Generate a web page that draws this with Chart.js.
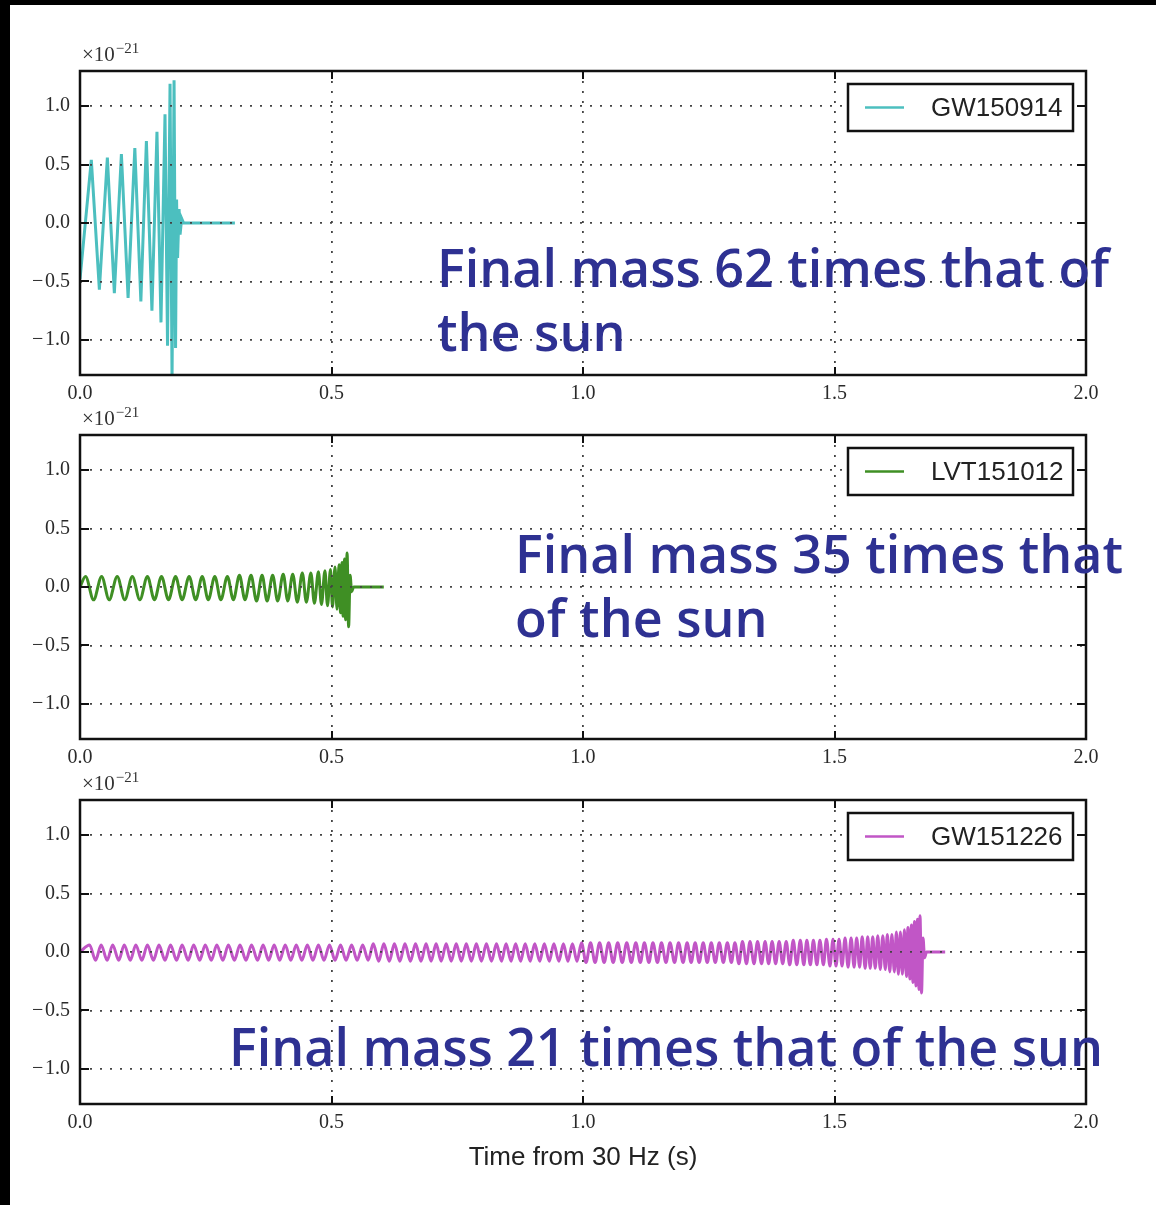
<!DOCTYPE html>
<html>
<head>
<meta charset="utf-8">
<script src="https://cdn.jsdelivr.net/npm/chart.js@4.4.1/dist/chart.umd.min.js"></script>
<style>
  body { margin: 0; background: #fff; }
  #page { position: relative; width: 1156px; height: 1205px; background: #fff; overflow: hidden; }
  canvas { position: absolute; left: 0; }
  .edge { position: absolute; background: #000; }
  .note {
    position: absolute; white-space: nowrap;
    font-family: "Open Sans", sans-serif; font-weight: 600;
    font-size: 52px; line-height: 64px; color: #2E3192;
  }
</style>
</head>
<body>
<div id="page">
  <canvas id="c1" width="1156" height="404" style="top:11px"></canvas>
  <canvas id="c2" width="1156" height="404" style="top:375px"></canvas>
  <canvas id="c3" width="1156" height="444" style="top:740px"></canvas>
  <div class="edge" style="left:0;top:0;width:10px;height:1205px"></div>
  <div class="edge" style="left:0;top:0;width:1156px;height:5px"></div>
  <div class="note" style="left:437px;top:235px">Final mass 62 times that of<br>the sun</div>
  <div class="note" style="left:515px;top:521px">Final mass 35 times that<br>of the sun</div>
  <div class="note" style="left:229px;top:1014px">Final mass 21 times that of the sun</div>
</div>
<script>
// axis ticks
const xTicks = [0, 0.5, 1.0, 1.5, 2.0];
const yTicks = [-1.0, -0.5, 0.0, 0.5, 1.0];
const xLabel = 'Time from 30 Hz (s)';
const names = ['GW150914', 'LVT151012', 'GW151226'];

// strain (x1e-21) at the turning points, [time s, strain]
const gw150914 = [
  [0.000,-0.48],[0.0225,0.54],[0.0385,-0.57],[0.0544,0.56],[0.0683,-0.60],[0.0823,0.59],[0.0956,-0.64],
  [0.109,0.64],[0.121,-0.67],[0.132,0.70],[0.143,-0.75],[0.153,0.78],[0.161,-0.85],[0.169,0.93],
  [0.174,-1.05],[0.179,1.19],[0.183,-1.35],[0.187,1.22],[0.190,-1.07],[0.192,0.20],[0.194,-0.30],
  [0.197,0.12],[0.199,-0.10],[0.202,0.04],[0.206,0.00],[0.308,0.00]
];

const lvt151012 = [
  [0.000,0.00],[0.011,0.09],[0.027,-0.11],[0.043,0.09],[0.058,-0.11],[0.074,0.09],[0.089,-0.11],[0.104,0.09],
  [0.119,-0.11],[0.134,0.09],[0.148,-0.11],[0.162,0.09],[0.176,-0.11],[0.190,0.09],[0.203,-0.11],[0.217,0.09],
  [0.230,-0.11],[0.243,0.09],[0.255,-0.11],[0.268,0.09],[0.280,-0.11],[0.293,0.09],[0.305,-0.11],[0.317,0.10],
  [0.328,-0.11],[0.340,0.10],[0.351,-0.12],[0.362,0.10],[0.372,-0.12],[0.383,0.10],[0.393,-0.12],[0.404,0.11],
  [0.413,-0.12],[0.423,0.11],[0.432,-0.13],[0.442,0.12],[0.450,-0.13],[0.459,0.12],[0.466,-0.14],[0.474,0.13],
  [0.480,-0.15],[0.487,0.14],[0.492,-0.16],[0.498,0.15],[0.502,-0.17],[0.507,0.17],[0.511,-0.19],[0.515,0.19],
  [0.518,-0.22],[0.521,0.21],[0.523,-0.25],[0.526,0.24],[0.528,-0.28],[0.531,0.29],[0.534,-0.34],[0.537,0.10],
  [0.540,-0.04],[0.544,0.00],[0.604,0.00]
];

const gw151226 = [
  [0.000,0.00],
  [0.019,0.06],[0.031,-0.07],[0.042,0.06],[0.054,-0.07],[0.065,0.06],[0.077,-0.07],[0.088,0.06],[0.100,-0.07],
  [0.111,0.06],[0.123,-0.07],[0.134,0.06],[0.146,-0.07],[0.157,0.06],[0.169,-0.07],[0.180,0.06],[0.192,-0.07],
  [0.203,0.06],[0.215,-0.07],[0.226,0.06],[0.238,-0.07],[0.249,0.06],[0.261,-0.07],[0.272,0.06],[0.284,-0.07],
  [0.295,0.06],[0.307,-0.07],[0.318,0.06],[0.330,-0.07],[0.341,0.06],[0.353,-0.07],[0.364,0.06],[0.375,-0.07],
  [0.386,0.06],[0.397,-0.07],[0.408,0.06],[0.419,-0.07],[0.430,0.06],[0.441,-0.07],[0.452,0.06],[0.463,-0.07],
  [0.474,0.06],[0.485,-0.07],[0.496,0.06],[0.507,-0.07],[0.518,0.06],[0.529,-0.07],[0.540,0.06],[0.551,-0.07],
  [0.562,0.06],[0.573,-0.07],
  [0.583,0.07],[0.594,-0.08],[0.604,0.07],[0.615,-0.08],[0.625,0.07],[0.636,-0.08],[0.646,0.07],[0.657,-0.08],
  [0.667,0.07],[0.678,-0.08],[0.688,0.07],[0.698,-0.08],[0.708,0.07],[0.718,-0.08],[0.728,0.07],[0.738,-0.08],
  [0.748,0.07],[0.758,-0.08],[0.768,0.07],[0.778,-0.08],[0.788,0.07],[0.798,-0.08],[0.808,0.07],[0.818,-0.08],
  [0.828,0.07],[0.838,-0.08],[0.847,0.07],[0.857,-0.08],[0.866,0.07],[0.876,-0.08],[0.885,0.07],[0.895,-0.08],
  [0.904,0.07],[0.914,-0.08],[0.923,0.07],[0.933,-0.08],[0.942,0.07],[0.952,-0.08],[0.961,0.07],[0.970,-0.08],
  [0.979,0.07],[0.988,-0.08],[0.997,0.08],[1.006,-0.09],[1.015,0.08],[1.024,-0.09],[1.033,0.08],[1.042,-0.09],
  [1.051,0.08],[1.060,-0.09],[1.069,0.08],[1.078,-0.09],[1.087,0.08],[1.096,-0.09],[1.105,0.08],[1.114,-0.09],
  [1.122,0.08],[1.131,-0.09],[1.139,0.08],[1.148,-0.09],[1.156,0.08],[1.165,-0.09],
  [1.173,0.08],[1.182,-0.09],[1.190,0.08],[1.199,-0.09],[1.207,0.08],[1.215,-0.09],[1.223,0.08],[1.231,-0.09],
  [1.239,0.08],[1.247,-0.09],[1.255,0.08],[1.263,-0.09],[1.271,0.08],[1.279,-0.09],[1.287,0.08],[1.295,-0.09],
  [1.302,0.08],[1.310,-0.10],[1.317,0.09],[1.325,-0.10],[1.332,0.09],[1.340,-0.10],[1.347,0.09],[1.355,-0.10],
  [1.362,0.09],[1.369,-0.10],[1.376,0.09],[1.383,-0.10],[1.390,0.09],[1.397,-0.10],[1.404,0.09],[1.411,-0.11],
  [1.418,0.10],[1.425,-0.11],[1.432,0.10],[1.439,-0.11],[1.445,0.10],[1.452,-0.11],[1.458,0.10],[1.465,-0.11],
  [1.471,0.10],[1.478,-0.11],[1.484,0.11],[1.491,-0.12],[1.497,0.11],[1.503,-0.12],[1.509,0.11],[1.515,-0.12],
  [1.521,0.12],[1.527,-0.13],[1.533,0.12],[1.539,-0.13],[1.544,0.12],[1.550,-0.13],[1.555,0.13],[1.561,-0.14],
  [1.566,0.13],[1.571,-0.14],[1.576,0.13],[1.581,-0.14],[1.586,0.14],[1.591,-0.15],[1.596,0.14],[1.601,-0.15],
  [1.605,0.15],[1.610,-0.17],[1.614,0.15],[1.619,-0.17],[1.623,0.17],[1.627,-0.19],[1.631,0.17],[1.635,-0.19],
  [1.639,0.19],[1.643,-0.21],[1.646,0.21],[1.650,-0.23],[1.653,0.23],[1.656,-0.26],[1.659,0.26],[1.662,-0.29],
  [1.665,0.28],[1.668,-0.32],[1.670,0.31],[1.673,-0.35],[1.676,0.12],[1.679,-0.05],[1.683,0.00],[1.720,0.00]
];

const colors = ['#4CBFBF', '#3F8F24', '#C156C6'];

const serif = '"Liberation Serif", "DejaVu Serif", serif';
const sans = '"Liberation Sans", Arial, sans-serif';

function fmt(v) {
  return (v < 0 ? '\u2212\u200a' : '') + Math.abs(v).toFixed(1);
}

// box, inward ticks, x10^-21 and the boxed legend
const framePlugin = {
  id: 'frame',
  afterDraw(chart) {
    const ctx = chart.ctx;
    const a = chart.chartArea;
    const xs = chart.scales.x, ys = chart.scales.y;
    ctx.save();
    ctx.strokeStyle = '#111';
    ctx.lineWidth = 2;
    ctx.beginPath();
    xTicks.forEach(v => {
      const px = Math.round(xs.getPixelForValue(v));
      ctx.moveTo(px, a.bottom); ctx.lineTo(px, a.bottom - 8);
      ctx.moveTo(px, a.top); ctx.lineTo(px, a.top + 8);
    });
    yTicks.forEach(v => {
      const py = Math.round(ys.getPixelForValue(v));
      ctx.moveTo(a.left, py); ctx.lineTo(a.left + 9, py);
      ctx.moveTo(a.right, py); ctx.lineTo(a.right - 9, py);
    });
    ctx.stroke();
    ctx.lineWidth = 2.5;
    ctx.strokeRect(a.left, a.top, a.right - a.left, a.bottom - a.top);

    // multiplier
    ctx.fillStyle = '#333';
    ctx.textBaseline = 'alphabetic';
    ctx.textAlign = 'left';
    ctx.font = '21px ' + serif;
    ctx.fillText('\u00d710', a.left + 2, a.top - 10);
    const w = ctx.measureText('\u00d710').width;
    ctx.font = '15px ' + serif;
    ctx.fillText('\u221221', a.left + 3 + w, a.top - 18);

    // legend
    const ds = chart.data.datasets[0];
    const bw = 225, bh = 47;
    const bx = a.right - 13 - bw, by = a.top + 13;
    ctx.fillStyle = '#fff';
    ctx.fillRect(bx, by, bw, bh);
    ctx.strokeStyle = '#111';
    ctx.lineWidth = 2.5;
    ctx.strokeRect(bx, by, bw, bh);
    ctx.strokeStyle = ds.borderColor;
    ctx.lineWidth = 2.5;
    ctx.beginPath();
    ctx.moveTo(bx + 17, by + bh / 2);
    ctx.lineTo(bx + 56, by + bh / 2);
    ctx.stroke();
    ctx.fillStyle = '#222';
    ctx.font = '26px ' + sans;
    ctx.textBaseline = 'middle';
    ctx.fillText(ds.label, bx + 83, by + bh / 2 + 1);
    ctx.restore();
  }
};

function makePanel(id, series, color, name, width, smooth, withTitle) {
  return new Chart(document.getElementById(id), {
    type: 'line',
    data: {
      datasets: [{
        label: name,
        data: series.map(p => ({ x: p[0], y: p[1] })),
        borderColor: color,
        borderWidth: width,
        pointRadius: 0,
        fill: false,
        tension: 0,
        cubicInterpolationMode: smooth ? 'monotone' : 'default'
      }]
    },
    options: {
      responsive: false,
      animation: false,
      events: [],
      layout: { padding: { left: 0, right: 70, top: 60, bottom: 5 } },
      plugins: { legend: { display: false }, tooltip: { enabled: false } },
      scales: {
        x: {
          type: 'linear', min: 0, max: 2,
          afterBuildTicks: s => { s.ticks = xTicks.map(v => ({ value: v })); },
          afterFit: s => { s.height = withTitle ? 75 : 35; },
          ticks: {
            callback: v => fmt(v), autoSkip: false, maxRotation: 0,
            padding: 7, color: '#2a2a2a', font: { family: serif, size: 20 }
          },
          grid: { color: '#444', lineWidth: 1.8, drawTicks: false, z: 1 },
          border: { display: false, dash: [2, 8] },
          title: {
            display: withTitle, text: xLabel, color: '#222',
            font: { family: sans, size: 26 }, padding: { top: 0, bottom: 6 }
          }
        },
        y: {
          min: -1.3, max: 1.3,
          afterBuildTicks: s => { s.ticks = yTicks.map(v => ({ value: v })); },
          afterFit: s => { s.width = 80; },
          ticks: {
            callback: v => fmt(v), padding: 10, color: '#2a2a2a',
            font: { family: serif, size: 20 }
          },
          grid: { color: '#444', lineWidth: 1.8, drawTicks: false, z: 1 },
          border: { display: false, dash: [2, 8] }
        }
      }
    },
    plugins: [framePlugin]
  });
}

makePanel('c1', gw150914, colors[0], names[0], 3, false, false);
makePanel('c2', lvt151012, colors[1], names[1], 3, true, false);
makePanel('c3', gw151226, colors[2], names[2], 3, true, true);
</script>
</body>
</html>
